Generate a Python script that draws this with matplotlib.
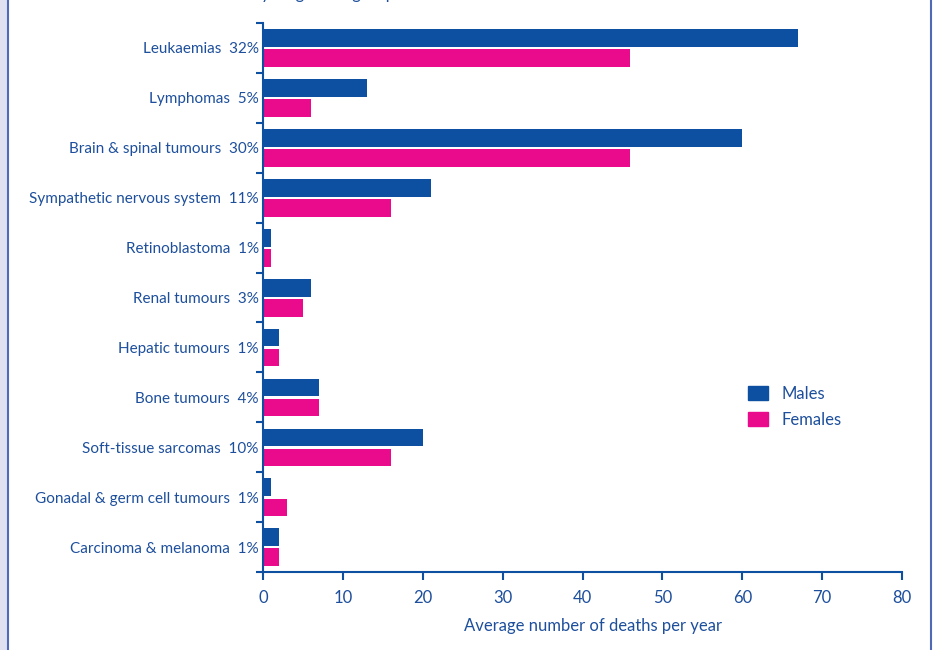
import matplotlib
matplotlib.use('Agg')
import matplotlib.pyplot as plt
from matplotlib.patches import Patch, Rectangle
from matplotlib.lines import Line2D
import numpy as np

# deaths per year by diagnostic group
groups = ['Leukaemias', 'Lymphomas', 'Brain & spinal tumours',
          'Sympathetic nervous system', 'Retinoblastoma', 'Renal tumours',
          'Hepatic tumours', 'Bone tumours', 'Soft-tissue sarcomas',
          'Gonadal & germ cell tumours', 'Carcinoma & melanoma']
shares = ['32%', '5%', '30%', '11%', '1%', '3%', '1%', '4%', '10%', '1%', '1%']
males = [67, 13, 60, 21, 1, 6, 2, 7, 20, 1, 2]
females = [46, 6, 46, 16, 1, 5, 2, 7, 16, 3, 2]
xticks = [0, 10, 20, 30, 40, 50, 60, 70, 80]

BLUE = '#0d4fa1'
PINK = '#ea0a8c'
TEXT = '#1d4f9c'

plt.rcParams['font.family'] = ['Lato', 'DejaVu Sans']

fig = plt.figure(figsize=(9.34, 6.5), dpi=100)
ax = fig.add_axes([263 / 934, 1 - 572 / 650, (902 - 263) / 934, (572 - 23) / 650])

y = np.arange(len(groups))
ax.barh(y - 0.197, males, height=0.355, color=BLUE, label='Males')
ax.barh(y + 0.205, females, height=0.355, color=PINK, label='Females')

ax.set_xlim(0, 80)
ax.set_ylim(len(groups) - 0.5, -0.5)
ax.set_xticks(xticks)
ax.set_yticks(y)
ax.set_yticklabels([g + '  ' + s for g, s in zip(groups, shares)])
ax.set_yticks(np.arange(len(groups) + 1) - 0.5, minor=True)

for side in ['top', 'right']:
    ax.spines[side].set_visible(False)
for side in ['left', 'bottom']:
    ax.spines[side].set_color(BLUE)
    ax.spines[side].set_linewidth(1.5)

ax.tick_params(axis='x', direction='out', length=6, width=1.5, color=BLUE,
               labelcolor=TEXT, labelsize=12, pad=7)
ax.tick_params(axis='y', which='major', length=0, labelcolor=TEXT,
               labelsize=11, pad=3)
ax.tick_params(axis='y', which='minor', direction='out', length=5,
               width=1.5, color=BLUE)

fig.text(593 / 934, 1 - 626 / 650, 'Average number of deaths per year',
         ha='center', va='center', color=TEXT, fontsize=12)

handles = [Patch(color=BLUE), Patch(color=PINK)]
fig.legend(handles, ['Males', 'Females'], loc='upper left',
           bbox_to_anchor=(733 / 934, 1 - 371 / 650), frameon=False,
           handlelength=1.2, handleheight=0.9, handletextpad=0.8,
           labelspacing=0.6, fontsize=12, labelcolor=TEXT)

# title line running off the top edge
fig.text(252 / 934, 1 + 1 / 650, 'by diagnostic group', ha='left',
         va='baseline', color=TEXT, fontsize=12)

# page border
fig.patches.append(Rectangle((0, 0), 7 / 934, 1, transform=fig.transFigure,
                             color='#dfe0f0', zorder=0))
fig.lines.append(Line2D([7.5 / 934, 7.5 / 934], [0, 1], transform=fig.transFigure,
                        color='#5068b8', lw=1.5))
fig.lines.append(Line2D([931 / 934, 931 / 934], [0, 1], transform=fig.transFigure,
                        color='#5068b8', lw=1.5))

fig.savefig('out.png', dpi=100)
